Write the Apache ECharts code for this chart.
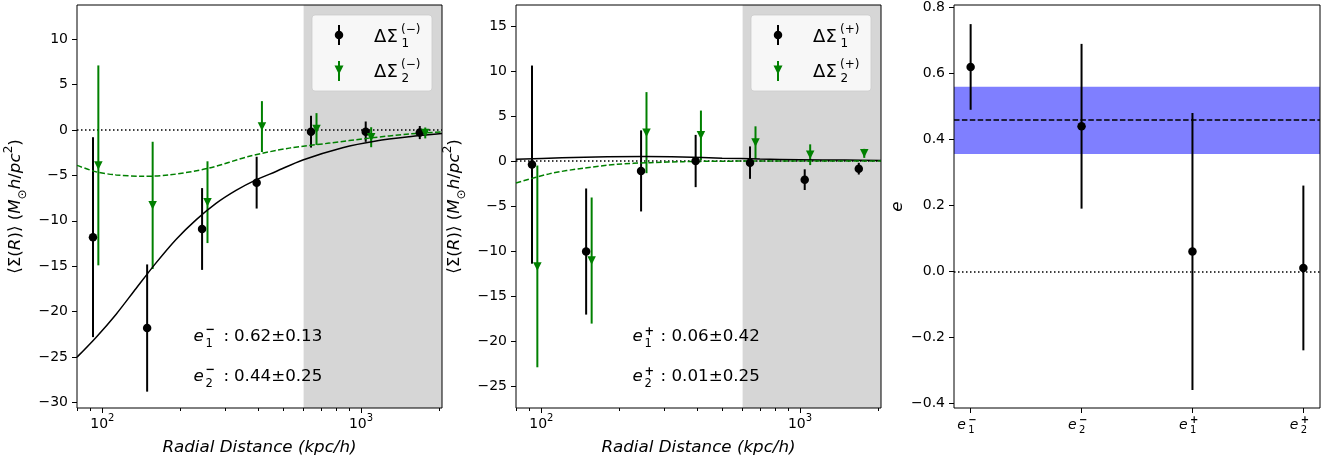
<!DOCTYPE html>
<html>
<head>
<meta charset="utf-8">
<title>Ellipticity</title>
<script src="https://cdn.jsdelivr.net/npm/echarts@6.0.0/dist/echarts.min.js"></script>
<style>
html,body{margin:0;padding:0;background:#ffffff;}
#chart{width:1331px;height:460px;}
</style>
</head>
<body>
<div id="chart"></div>
<script>
// ---------------- data ----------------
const radiusBins1 = [92, 149, 243, 395, 641, 1043, 1688];
const radiusBins2 = [96.5, 156.5, 255, 414, 673, 1095, 1772];

const dSigma1Minus    = [-11.8, -21.8, -10.9, -5.8, -0.19, -0.19, -0.29];
const dSigma1MinusErr = [11.0, 7.0, 4.5, 2.85, 1.75, 1.12, 0.72];
const dSigma2Minus    = [-3.9, -8.3, -7.95, 0.37, 0.1, -0.8, -0.33];
const dSigma2MinusErr = [11.0, 7.0, 4.5, 2.8, 1.75, 1.1, 0.6];

const dSigma1Plus    = [-0.4, -10.05, -1.1, 0.0, -0.18, -2.07, -0.85];
const dSigma1PlusErr = [11.0, 7.0, 4.5, 2.9, 1.8, 1.15, 0.65];
const dSigma2Plus    = [-11.7, -11.05, 3.15, 2.85, 2.05, 0.7, 0.85];
const dSigma2PlusErr = [11.2, 7.0, 4.5, 2.75, 1.8, 1.15, 0.5];

// model curves
const fit1MinusR = [79.8, 94.5, 112.9, 135, 161.3, 192.7, 230.3, 275.1, 328.7, 392.7, 469.3, 596, 849, 1143, 1538, 2057];
const fit1MinusV = [-25.0, -22.83, -20.3, -17.44, -14.63, -12.05, -9.9, -8.09, -6.66, -5.5, -4.57, -3.3, -1.95, -1.21, -0.74, -0.39];
const fit2MinusR = [79.8, 94.5, 113, 143, 182, 259, 370, 528, 754, 1076, 1538, 2057];
const fit2MinusV = [-3.9, -4.6, -4.95, -5.1, -4.95, -4.2, -2.9, -2.0, -1.45, -0.9, -0.44, -0.22];
const fit1PlusR = [79.8, 120, 180, 250, 350, 500, 700, 1000, 1500, 2057];
const fit1PlusV = [0.2, 0.35, 0.48, 0.5, 0.45, 0.32, 0.22, 0.15, 0.1, 0.07];
const fit2PlusR = [79.8, 108, 145, 196, 263, 354, 500, 800, 1200, 2057];
const fit2PlusV = [-2.45, -1.4, -0.8, -0.37, -0.18, -0.07, -0.02, 0, 0, 0];

// ellipticities
const eSub = ['1', '2', '1', '2'];
const eSup = ['\u2212', '\u2212', '+', '+'];
const eVals = [0.62, 0.44, 0.06, 0.01];
const eErrs = [0.13, 0.25, 0.42, 0.25];
const eMean = 0.458;
const eMeanErr = 0.102;

const annotMinus = ['0.62\u00b10.13', '0.44\u00b10.25'];
const annotPlus  = ['0.06\u00b10.42', '0.01\u00b10.25'];

// axes / ticks
const xMin = 79.8, xMax = 2057;
const shadeStartR = 600;
const xMajorTicks = [100, 1000];
const xMinorTicks = [80, 90, 200, 300, 400, 500, 600, 700, 800, 900, 2000];
const yMinusRange = [-30.6, 13.75];
const yPlusRange = [-27.42, 17.32];
const eRange = [-0.415, 0.808];
const yTicksMinus = [-30, -25, -20, -15, -10, -5, 0, 5, 10];
const yTicksPlus = [-25, -20, -15, -10, -5, 0, 5, 10, 15];
const yTicksE = [-0.4, -0.2, 0, 0.2, 0.4, 0.6, 0.8];

// ---------------- styling ----------------
const FONT = 'DejaVu Sans';
const BLACK = '#000000';
const GREEN = '#008000';
const SHADE = '#d6d6d6';
const TICK_FS = 14;
const LABEL_FS = 16.7;

const chart = echarts.init(document.getElementById('chart'), null, {renderer: 'canvas'});

function fmtInt(v) { return v < 0 ? '\u2212' + Math.abs(v) : String(v); }
function fmtDec(v) { const s = Math.abs(v).toFixed(1); return v < -1e-9 ? '\u2212' + s : s; }

const nameRich = {
  n: {fontFamily: FONT, fontSize: LABEL_FS, color: BLACK, lineHeight: 26, verticalAlign: 'middle'},
  i: {fontFamily: FONT, fontSize: LABEL_FS, color: BLACK, fontStyle: 'italic', lineHeight: 26, verticalAlign: 'middle'},
  sub: {fontFamily: FONT, fontSize: 12, color: BLACK, lineHeight: 12, verticalAlign: 'bottom'},
  sup: {fontFamily: FONT, fontSize: 12, color: BLACK, lineHeight: 12, verticalAlign: 'top'}
};
const sigmaName = '{n|\u27e8\u03a3(}{i|R}{n|)\u27e9 (}{i|M}{sub|\u2299}{i|h}{n|/}{i|pc}{sup|2}{n|)}';

function gridCfg(left, width) {
  return {left: left, top: 5, width: width, height: 403, show: true, borderColor: BLACK, borderWidth: 1,
          backgroundColor: 'transparent', containLabel: false, outerBoundsMode: 'none'};
}

function logAxes(gi) {
  const lmin = Math.log10(xMin), lmax = Math.log10(xMax);
  return [
    {type: 'log', logBase: 10, gridIndex: gi, min: xMin, max: xMax,
     axisLine: {show: false, onZero: false}, axisTick: {show: false}, axisLabel: {show: false}, splitLine: {show: false}},
    {type: 'value', gridIndex: gi, min: lmin, max: lmax, position: 'bottom',
     axisLine: {show: false, onZero: false}, splitLine: {show: false},
     axisTick: {show: true, length: 5, lineStyle: {color: BLACK, width: 1}, customValues: xMajorTicks.map(Math.log10)},
     axisLabel: {show: true, margin: 5, customValues: xMajorTicks.map(Math.log10),
       formatter: v => '{b|10}{s|' + Math.round(v) + '}',
       rich: {b: {fontFamily: FONT, fontSize: TICK_FS, color: BLACK, lineHeight: 18, verticalAlign: 'bottom'},
              s: {fontFamily: FONT, fontSize: 10, color: BLACK, lineHeight: 10, verticalAlign: 'top'}}},
     name: 'Radial Distance (kpc/h)', nameLocation: 'middle', nameGap: 31,
     nameTextStyle: {fontFamily: FONT, fontSize: LABEL_FS, fontStyle: 'italic', color: BLACK}},
    {type: 'value', gridIndex: gi, min: lmin, max: lmax, position: 'bottom',
     axisLine: {show: false, onZero: false}, splitLine: {show: false}, axisLabel: {show: false},
     axisTick: {show: true, length: 3, lineStyle: {color: BLACK, width: 1}, customValues: xMinorTicks.map(Math.log10)}}
  ];
}

function yAxisCfg(gi, range, ticks, fmt, name, rich, gap) {
  return {type: 'value', gridIndex: gi, min: range[0], max: range[1], position: 'left',
    axisLine: {show: false, onZero: false}, splitLine: {show: false},
    axisTick: {show: true, length: 5, lineStyle: {color: BLACK, width: 1}, customValues: ticks},
    axisLabel: {show: true, margin: 9, customValues: ticks, formatter: fmt,
                fontFamily: FONT, fontSize: TICK_FS, color: BLACK},
    name: name, nameLocation: 'middle', nameRotate: 90, nameGap: gap,
    nameTextStyle: rich ? {rich: rich} : {fontFamily: FONT, fontSize: LABEL_FS, fontStyle: 'italic', color: BLACK}};
}

function errorBars(xs, ys, es, color, xi, yi) {
  return {type: 'custom', xAxisIndex: xi, yAxisIndex: yi, z: 3, silent: true,
    data: xs.map((x, i) => [x, ys[i] - es[i], ys[i] + es[i]]),
    encode: {x: 0, y: [1, 2]},
    renderItem: (params, api) => {
      const a = api.coord([api.value(0), api.value(1)]);
      const b = api.coord([api.value(0), api.value(2)]);
      return {type: 'line', shape: {x1: a[0], y1: a[1], x2: b[0], y2: b[1]},
              style: {stroke: color, lineWidth: 2}};
    }};
}
function markers(xs, ys, color, tri, xi, yi) {
  return {type: 'scatter', xAxisIndex: xi, yAxisIndex: yi, z: 5, silent: true,
    symbol: tri ? 'triangle' : 'circle', symbolRotate: tri ? 180 : 0, symbolSize: 8.5,
    itemStyle: {color: color, opacity: 1}, data: xs.map((x, i) => [x, ys[i]])};
}
function curve(xs, ys, color, dashed, xi, yi) {
  return {type: 'line', xAxisIndex: xi, yAxisIndex: yi, z: 4, silent: true, smooth: 0.3,
    showSymbol: false, symbol: 'none',
    lineStyle: {color: color, width: 1.5, type: dashed ? [5.5, 2.4] : 'solid'},
    data: xs.map((x, i) => [x, ys[i]])};
}
function refSeries(xi, yi, areaData, areaColor, lines) {
  return {type: 'line', xAxisIndex: xi, yAxisIndex: yi, data: [], silent: true, z: 2,
    markArea: {silent: true, z: -1, itemStyle: {color: areaColor, borderWidth: 0}, data: areaData},
    markLine: {silent: true, z: 2, symbol: ['none', 'none'], label: {show: false}, animation: false, data: lines}};
}
const dotted = {color: BLACK, width: 1.5, type: [1.5, 2.5]};
const dashed = {color: BLACK, width: 1.5, type: [5.5, 2.4]};

const xAxes = [].concat(logAxes(0), logAxes(1), [
  {type: 'value', gridIndex: 2, min: -0.15, max: 3.15, position: 'bottom',
   axisLine: {show: false, onZero: false}, splitLine: {show: false}, axisLabel: {show: false},
   axisTick: {show: true, length: 5, lineStyle: {color: BLACK, width: 1}, customValues: eVals.map((v, i) => i)}}
]);
const yAxes = [
  yAxisCfg(0, yMinusRange, yTicksMinus, fmtInt, sigmaName, nameRich, 48),
  yAxisCfg(1, yPlusRange, yTicksPlus, fmtInt, sigmaName, nameRich, 48),
  yAxisCfg(2, eRange, yTicksE, fmtDec, 'e', null, 48)
];

const eIdx = eVals.map((v, i) => i);
const series = [
  refSeries(0, 0, [[{xAxis: shadeStartR}, {xAxis: xMax}]], SHADE, [{yAxis: 0, lineStyle: dotted}]),
  errorBars(radiusBins1, dSigma1Minus, dSigma1MinusErr, BLACK, 0, 0),
  errorBars(radiusBins2, dSigma2Minus, dSigma2MinusErr, GREEN, 0, 0),
  curve(fit1MinusR, fit1MinusV, BLACK, false, 0, 0),
  curve(fit2MinusR, fit2MinusV, GREEN, true, 0, 0),
  markers(radiusBins1, dSigma1Minus, BLACK, false, 0, 0),
  markers(radiusBins2, dSigma2Minus, GREEN, true, 0, 0),

  refSeries(3, 1, [[{xAxis: shadeStartR}, {xAxis: xMax}]], SHADE, [{yAxis: 0, lineStyle: dotted}]),
  errorBars(radiusBins1, dSigma1Plus, dSigma1PlusErr, BLACK, 3, 1),
  errorBars(radiusBins2, dSigma2Plus, dSigma2PlusErr, GREEN, 3, 1),
  curve(fit1PlusR, fit1PlusV, BLACK, false, 3, 1),
  curve(fit2PlusR, fit2PlusV, GREEN, true, 3, 1),
  markers(radiusBins1, dSigma1Plus, BLACK, false, 3, 1),
  markers(radiusBins2, dSigma2Plus, GREEN, true, 3, 1),

  refSeries(6, 2, [[{yAxis: eMean - eMeanErr}, {yAxis: eMean + eMeanErr}]], 'rgba(0,0,255,0.5)',
            [{yAxis: eMean, lineStyle: dashed}, {yAxis: 0, lineStyle: dotted}]),
  errorBars(eIdx, eVals, eErrs, BLACK, 6, 2),
  markers(eIdx, eVals, BLACK, false, 6, 2)
];

chart.setOption({
  animation: false,
  backgroundColor: '#ffffff',
  textStyle: {fontFamily: FONT},
  grid: [gridCfg(77, 365), gridCfg(516, 365), gridCfg(954, 366)],
  xAxis: xAxes,
  yAxis: yAxes,
  series: series
});

// ---------------- decorations (legend, annotations, e tick labels) ----------------
function T(x, y, s, size, extra) {
  return {type: 'text', x: x, y: y, z: 100, silent: true,
    style: Object.assign({text: s, fontFamily: FONT, fontSize: size, fill: BLACK,
      align: 'left', verticalAlign: 'middle', textAlign: 'left', textVerticalAlign: 'middle'}, extra || {})};
}
function legend(x0, sup) {
  const els = [];
  els.push({type: 'rect', z: 90, silent: true, shape: {x: x0, y: 15, width: 120, height: 76, r: 3},
            style: {fill: 'rgba(255,255,255,0.8)', stroke: 'rgba(204,204,204,0.8)', lineWidth: 1}});
  const mx = x0 + 27;
  els.push({type: 'line', z: 95, silent: true, shape: {x1: mx, y1: 25, x2: mx, y2: 45}, style: {stroke: BLACK, lineWidth: 2}});
  els.push({type: 'circle', z: 96, silent: true, shape: {cx: mx, cy: 35, r: 4.25}, style: {fill: BLACK}});
  els.push({type: 'line', z: 95, silent: true, shape: {x1: mx, y1: 61, x2: mx, y2: 81}, style: {stroke: GREEN, lineWidth: 2}});
  els.push({type: 'polygon', z: 96, silent: true, shape: {points: [[mx - 4.5, 65.5], [mx + 4.5, 65.5], [mx, 74.5]]}, style: {fill: GREEN}});
  const tx = x0 + 62;
  [[37.5, '1'], [72.5, '2']].forEach(([cy, sub]) => {
    els.push(T(tx, cy, '\u0394', 18));
    els.push(T(tx + 12.5, cy, '\u03a3', 18));
    els.push(T(tx + 27.5, cy + 6, sub, 12));
    els.push(T(tx + 27, cy - 8, sup, 12));
  });
  return els;
}
function annot(x, y, sub, sup, supDy, colonDx, valDx, val) {
  return [
    T(x, y, 'e', LABEL_FS, {fontStyle: 'italic'}),
    T(x + 12, y + 7.2, sub, 11.5),
    T(x + 12, y + supDy, sup, 11.5, {fontWeight: 'bold'}),
    T(x + colonDx, y, ':', LABEL_FS),
    T(x + valDx, y, val, LABEL_FS)
  ];
}

let graphics = [];
graphics = graphics.concat(legend(312, '(\u2212)'), legend(751, '(+)'));
graphics = graphics.concat(annot(193.5, 336.8, '1', '\u2212', -6.8, 30, 40.5, annotMinus[0]));
graphics = graphics.concat(annot(193.5, 376.8, '2', '\u2212', -6.8, 30, 40.5, annotMinus[1]));
graphics = graphics.concat(annot(632.5, 336.8, '1', '+', -4.5, 28, 39, annotPlus[0]));
graphics = graphics.concat(annot(632.5, 376.8, '2', '+', -4.5, 28, 39, annotPlus[1]));

const axisY = chart.convertToPixel({yAxisIndex: 2}, eRange[0]);
eIdx.forEach(i => {
  const px = chart.convertToPixel({xAxisIndex: 6}, i);
  graphics.push(T(px - 13.5, axisY + 17, 'e', TICK_FS, {fontStyle: 'italic'}));
  graphics.push(T(px - 2.5, axisY + 22, eSub[i], 10));
  graphics.push(T(px - 2.5, axisY + 12, eSup[i], 10, {fontWeight: 'bold'}));
});

chart.setOption({graphic: graphics});
</script>
</body>
</html>
